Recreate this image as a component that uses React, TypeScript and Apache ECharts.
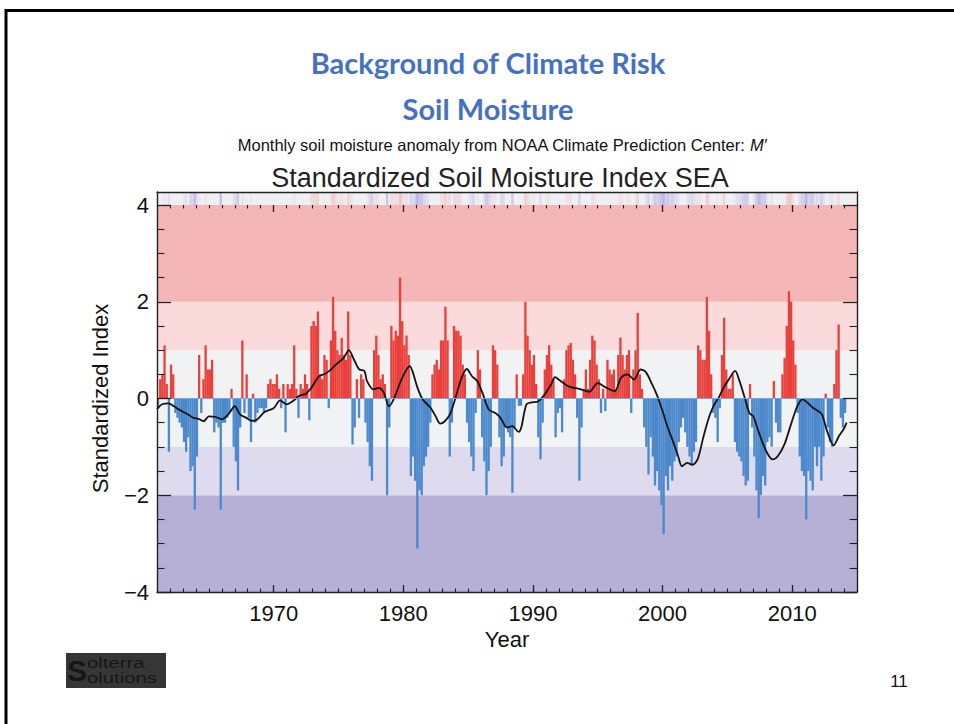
import React, { useEffect, useRef } from 'react';
import * as echarts from 'echarts';

// Standardized soil moisture index, six (bi-monthly) values per year
const STEPS_PER_YEAR = 6;
const ssi1960s = [
  -0.2, 0.4, 0.5, 1.1, 0.3, -1.1, // 1961
  0.7, 0.5, -0.3, -0.4, -0.5, -0.6, // 1962
  -0.9, -1.1, -0.8, -1.5, -1.4, -2.3, // 1963
  -1.2, 0.9, -0.3, 0.4, 1.1, 0.6, // 1964
  0.6, 0.8, -0.7, -0.5, -0.6, -2.3, // 1965
  -0.5, -0.5, -0.4, -0.3, 0.2, -1.0, // 1966
  -1.3, -1.9, -0.6, 1.2, -0.3, 0.5, // 1967
  -0.4, -0.9, 0.1, -0.5, -0.3, -0.2, // 1968
  -0.2, -0.3, -0.2, 0.3, 0.4, 0.3, // 1969
];
const ssi1970s = [
  0.3, 0.5, 0.2, -0.2, 0.3, -0.7, // 1970
  0.3, 0.2, 0.3, 1.1, 0.2, -0.4, // 1971
  0.3, 0.2, 0.5, 0.3, -0.45, 1.5, // 1972
  1.6, 1.5, 1.8, 0.5, 0.4, 0.9, // 1973
  0.8, -0.2, 1.2, 2.1, 1.4, 1.0, // 1974
  0.9, 1.25, 0.9, 0.8, 1.8, 0.9, // 1975
  -0.95, -0.6, 0.4, -0.4, 0.5, 0.4, // 1976
  -0.5, -0.9, -1.4, -1.7, 1.0, 1.3, // 1977
  0.9, 0.4, 0.5, 0.3, -2.0, -0.6, // 1978
  1.5, 1.2, 1.4, 1.3, 2.5, 1.6, // 1979
];
const ssi1980s = [
  1.1, 1.3, 0.9, -1.6, -1.2, -1.7, // 1980
  -3.1, -1.9, -2.0, -1.4, -1.2, -1.0, // 1981
  -0.5, 0.5, 0.7, 0.8, 0.6, 1.2, // 1982
  1.2, 1.9, 1.2, -1.2, -0.5, 1.5, // 1983
  1.4, 1.4, 1.3, 0.7, 0.5, -0.5, // 1984
  -0.9, -1.2, -1.5, -0.3, 1.0, 0.6, // 1985
  -0.8, -1.3, -2.0, -1.5, -1.0, 1.1, // 1986
  1.0, 0.7, -0.8, -1.4, -1.2, -0.6, // 1987
  -0.7, -0.8, -1.95, -0.6, 0.5, -0.15, // 1988
  -0.15, 0.5, 2.0, 1.3, 1.0, 0.7, // 1989
];
const ssi1990s = [
  0.9, 0.3, -0.8, -1.26, -0.5, 0.6, // 1990
  0.9, 1.1, 0.7, 0.4, -0.8, -0.3, // 1991
  -0.2, -0.7, 0.4, 1.0, 1.1, 1.15, // 1992
  0.8, 0.5, -0.4, -1.7, -0.6, 0.2, // 1993
  0.6, 0.2, 0.8, 1.3, 1.2, 0.7, // 1994
  0.4, -0.3, 0.2, -0.26, 0.8, 0.6, // 1995
  0.5, 0.6, 0.2, 0.9, 1.26, 0.9, // 1996
  0.6, 0.9, 1.0, -0.3, 0.6, 1.0, // 1997
  1.77, 0.5, 0.2, -0.6, -1.0, -1.57, // 1998
  -0.8, -1.2, -1.8, -1.5, -1.9, -2.2, // 1999
];
const ssi2000s = [
  -2.8, -1.6, -1.9, -1.4, -1.7, -1.3, // 2000
  -1.2, -0.9, -0.6, -0.4, -0.7, -1.0, // 2001
  -1.2, -1.37, -1.1, -0.9, 1.1, 1.0, // 2002
  0.8, 0.8, 2.1, 1.4, 0.5, -0.3, // 2003
  -0.4, -0.9, -0.2, 0.9, 1.67, 0.6, // 2004
  0.2, 0.2, 0.5, -0.9, -1.1, -1.2, // 2005
  -1.3, -1.6, -1.8, -1.7, 0.3, -0.6, // 2006
  -1.2, -1.9, -2.47, -2.0, -1.6, -1.8, // 2007
  -0.9, -0.8, -1.0, 0.36, -0.5, -0.7, // 2008
  -0.7, 0.5, 0.84, 1.5, 2.22, 2.0, // 2009
];
const ssi2010s = [
  1.2, 0.7, -0.3, -1.2, -1.5, -1.6, // 2010
  -2.5, -1.5, -1.7, -1.9, -1.0, -1.4, // 2011
  -1.0, -1.7, -1.2, 0.1, -0.6, -0.9, // 2012
  -1.0, 0.3, 1.0, 1.53, -0.4, -0.6, // 2013
  -0.3, // 2014
];
const decadeStarts = [1961, 1970, 1980, 1990, 2000, 2010];
const decadeValues = [ssi1960s, ssi1970s, ssi1980s, ssi1990s, ssi2000s, ssi2010s];

// Smoothed index (black curve)
const smoothYears = [
  1961.0, 1961.4, 1961.9, 1962.3, 1962.9, 1963.4, 1963.8, 1964.2, 1964.6, 1965.0,
  1965.5, 1966.0, 1966.5, 1967.0, 1967.4, 1967.9, 1968.3, 1968.7, 1969.3, 1970.0,
  1970.5, 1971.0, 1971.5, 1972.0, 1972.5, 1972.9, 1973.5, 1973.9, 1974.3, 1974.8,
  1975.4, 1975.8, 1976.2, 1976.6, 1977.0, 1977.2, 1977.7, 1978.1, 1978.5, 1978.9,
  1979.3, 1979.7, 1980.1, 1980.5, 1980.7, 1981.1, 1981.5, 1982.1, 1982.5, 1982.85,
  1983.2, 1983.6, 1984.1, 1984.5, 1984.9, 1985.3, 1985.7, 1986.1, 1986.6, 1987.1,
  1987.5, 1988.0, 1988.4, 1988.9, 1989.1, 1989.5, 1989.9, 1990.4, 1990.9, 1991.4,
  1991.7, 1992.1, 1992.5, 1992.85, 1993.2, 1993.7, 1994.35, 1995.0, 1995.6, 1996.3,
  1996.8, 1997.3, 1997.8, 1998.3, 1998.7, 1999.2, 1999.6, 2000.0, 2000.4, 2000.8,
  2001.2, 2001.5, 2001.9, 2002.3, 2002.7, 2003.1, 2003.4, 2003.7, 2004.0, 2004.3,
  2004.7, 2005.1, 2005.6, 2005.9, 2006.3, 2006.7, 2007.0, 2007.4, 2008.0, 2008.5,
  2008.9, 2009.4, 2009.9, 2010.4, 2010.8, 2011.2, 2011.6, 2012.0, 2012.3, 2012.7,
  2013.2, 2013.6, 2014.0, 2014.2,
];
const smoothValues = [
  -0.22, -0.12, -0.1, -0.16, -0.26, -0.33, -0.4, -0.42, -0.47, -0.37,
  -0.38, -0.43, -0.33, -0.16, -0.33, -0.4, -0.46, -0.44, -0.28, -0.2,
  -0.04, -0.12, -0.05, 0.06, 0.1, 0.22, 0.46, 0.5, 0.57, 0.7,
  0.84, 1.0, 0.8, 0.6, 0.57, 0.36, 0.19, 0.22, 0.12, -0.16,
  0.01, 0.29, 0.53, 0.67, 0.57, 0.22, -0.02, -0.19, -0.37, -0.52,
  -0.47, -0.33, 0.08, 0.43, 0.61, 0.46, 0.36, 0.12, -0.23, -0.3,
  -0.4, -0.6, -0.57, -0.69, -0.6, -0.12, -0.08, -0.06, 0.08, 0.29,
  0.44, 0.37, 0.29, 0.24, 0.22, 0.19, 0.14, 0.32, 0.23, 0.15,
  0.43, 0.5, 0.39, 0.6, 0.55, 0.29, 0.05, -0.26, -0.6, -0.88,
  -1.19, -1.4, -1.33, -1.37, -1.26, -0.85, -0.55, -0.3, -0.12, 0.0,
  0.22, 0.39, 0.57, 0.39, 0.05, -0.3, -0.37, -0.68, -1.09, -1.26,
  -1.19, -0.95, -0.54, -0.16, -0.02, -0.09, -0.19, -0.26, -0.33, -0.68,
  -0.97, -0.78, -0.62, -0.5,
];

const decadeTicks = [1970, 1980, 1990, 2000, 2010];
const bandEdges = [-4, -2, -1, 1, 2, 4];
const bandColors = ['#b6b0d6', '#dddbed', '#f1f2f4', '#fbdadc', '#f5b6b8'];

const RED = '#e9403b';
const BLUE = '#4b88cc';
const AXIS = '#222';
const FONT = '"Liberation Sans", Arial, sans-serif';
const TITLE_FONT = 'Lato, "Open Sans", sans-serif';

function buildBars(): [number, number][] {
  const out: [number, number][] = [];
  decadeValues.forEach((vals, d) => {
    vals.forEach((v, i) => out.push([decadeStarts[d] + (i + 0.5) / STEPS_PER_YEAR, v]));
  });
  return out;
}

function stripColor(v: number): string {
  if (v >= 0.9) return `rgba(238,130,138,${Math.min(0.42, (v - 0.6) * 0.22).toFixed(2)})`;
  if (v <= -0.9) return `rgba(125,118,212,${Math.min(0.48, (-v - 0.6) * 0.24).toFixed(2)})`;
  return 'rgba(0,0,0,0)';
}

export default function App() {
  const ref = useRef<HTMLDivElement>(null);
  useEffect(() => {
    if (!ref.current) return;
    const chart = echarts.init(ref.current, undefined, { renderer: 'svg' });
    const bars = buildBars();
    const smooth = smoothYears.map((t, i) => [t, smoothValues[i]]);
    const gridPos = { left: 157, right: 97 };
    const hiddenX = (gridIndex: number, position: string, extra: any) => ({
      gridIndex, type: 'value', min: 1961, max: 2015, position, z: 10,
      axisLine: { show: false, onZero: false }, axisLabel: { show: false }, splitLine: { show: false },
      ...extra,
    });
    const option: any = {
      animation: false,
      backgroundColor: '#ffffff',
      title: [
        { text: 'Background of Climate Risk', left: 483, top: 43, textAlign: 'center',
          textStyle: { fontFamily: TITLE_FONT, fontWeight: 'bold', fontSize: 29, color: '#4571c4' } },
        { text: 'Soil Moisture', left: 483, top: 89, textAlign: 'center',
          textStyle: { fontFamily: TITLE_FONT, fontWeight: 'bold', fontSize: 29, color: '#4571c4' } },
        { text: 'Monthly soil moisture anomaly from NOAA Climate Prediction Center: {i|M′}', left: 497, top: 131, textAlign: 'center',
          textStyle: { fontFamily: FONT, fontWeight: 'normal', fontSize: 16.5, color: '#111',
            rich: { i: { fontFamily: FONT, fontStyle: 'italic', fontSize: 16.5, color: '#111' } } } },
        { text: 'Standardized Soil Moisture Index SEA', left: 495, top: 159, textAlign: 'center',
          textStyle: { fontFamily: FONT, fontWeight: 'normal', fontSize: 27, color: '#222' } },
      ],
      grid: [
        { ...gridPos, top: 205, bottom: 132, show: false },
        { ...gridPos, top: 192, height: 13, show: true, backgroundColor: '#eff0f3', borderWidth: 0 },
      ],
      xAxis: [
        { gridIndex: 0, type: 'value', min: 1961, max: 2015, position: 'bottom', z: 10,
          axisLine: { show: true, onZero: false, lineStyle: { color: AXIS, width: 1.4 } },
          axisTick: { show: true, inside: true, length: 7, customValues: decadeTicks, lineStyle: { color: AXIS, width: 1.3 } },
          axisLabel: { show: true, customValues: decadeTicks, fontFamily: FONT, fontSize: 22, color: '#111', margin: 10,
            formatter: (v: number) => String(v) },
          splitLine: { show: false },
          name: 'Year', nameLocation: 'middle', nameGap: 35,
          nameTextStyle: { fontFamily: FONT, fontSize: 22, color: '#111' } },
        hiddenX(0, 'bottom', { interval: 1, axisTick: { show: true, inside: true, length: 3.5, lineStyle: { color: AXIS, width: 1.1 } } }),
        hiddenX(0, 'top', { axisTick: { show: true, inside: true, length: 7, customValues: decadeTicks, lineStyle: { color: AXIS, width: 1.3 } } }),
        hiddenX(0, 'top', { interval: 1, axisTick: { show: true, inside: true, length: 3.5, lineStyle: { color: AXIS, width: 1.1 } } }),
        hiddenX(1, 'top', { axisLine: { show: true, onZero: false, lineStyle: { color: AXIS, width: 1.4 } }, axisTick: { show: false } }),
      ],
      yAxis: [
        { gridIndex: 0, type: 'value', min: -4, max: 4, interval: 2, position: 'left', z: 10,
          axisLine: { show: true, onZero: false, lineStyle: { color: AXIS, width: 1.4 } },
          axisTick: { show: true, inside: true, length: 14, lineStyle: { color: AXIS, width: 1.3 } },
          minorTick: { show: true, splitNumber: 4, length: 7.5, lineStyle: { color: AXIS, width: 1.1 } },
          axisLabel: { fontFamily: FONT, fontSize: 22, color: '#111', margin: 8,
            formatter: (v: number) => (v < 0 ? '\u2212' + Math.abs(v) : String(v)) },
          splitLine: { show: false },
          name: 'Standardized Index', nameLocation: 'middle', nameGap: 46, nameRotate: 90,
          nameTextStyle: { fontFamily: FONT, fontSize: 22, color: '#111' } },
        { gridIndex: 0, type: 'value', min: -4, max: 4, interval: 2, position: 'right', z: 10,
          axisLine: { show: true, onZero: false, lineStyle: { color: AXIS, width: 1.4 } },
          axisTick: { show: true, inside: true, length: 14, lineStyle: { color: AXIS, width: 1.3 } },
          minorTick: { show: true, splitNumber: 4, length: 7.5, lineStyle: { color: AXIS, width: 1.1 } },
          axisLabel: { show: false }, splitLine: { show: false } },
        { gridIndex: 1, type: 'value', min: 0, max: 1, position: 'left', z: 10,
          axisLine: { show: true, onZero: false, lineStyle: { color: AXIS, width: 1.4 } },
          axisTick: { show: false }, axisLabel: { show: false }, splitLine: { show: false } },
        { gridIndex: 1, type: 'value', min: 0, max: 1, position: 'right', z: 10,
          axisLine: { show: true, onZero: false, lineStyle: { color: AXIS, width: 1.4 } },
          axisTick: { show: false }, axisLabel: { show: false }, splitLine: { show: false } },
      ],
      series: [
        { name: 'bands', type: 'line', xAxisIndex: 0, yAxisIndex: 0, data: [], silent: true,
          markArea: { silent: true, z: 1,
            data: bandColors.map((c, i) => [
              { yAxis: bandEdges[i], itemStyle: { color: c } },
              { yAxis: bandEdges[i + 1] },
            ]) } },
        { name: 'SSI', type: 'bar', xAxisIndex: 0, yAxisIndex: 0, data: bars, barWidth: 2.3, z: 2,
          silent: true,
          itemStyle: { color: (p: any) => (p.value[1] >= 0 ? RED : BLUE) },
          markLine: { silent: true, symbol: 'none', label: { show: false },
            lineStyle: { color: '#78a6da', width: 1, type: 'solid' }, data: [{ yAxis: 0 }] } },
        { name: 'smoothed', type: 'line', xAxisIndex: 0, yAxisIndex: 0, data: smooth, z: 4,
          showSymbol: false, symbol: 'none', smooth: 0.3, silent: true,
          lineStyle: { color: '#141414', width: 1.8 } },
        { name: 'strip', type: 'bar', xAxisIndex: 4, yAxisIndex: 2, barWidth: 2.3, silent: true,
          data: bars.map(([t, v]) => ({ value: [t, 1], itemStyle: { color: stripColor(v) } })) },
      ],
      graphic: [
        { type: 'line', shape: { x1: 6, y1: 10.5, x2: 954, y2: 10.5 }, style: { stroke: '#000', lineWidth: 3 } },
        { type: 'line', shape: { x1: 6, y1: 9, x2: 6, y2: 724 }, style: { stroke: '#000', lineWidth: 3 } },
        { type: 'group', children: [
          { type: 'rect', shape: { x: 66, y: 653, width: 100, height: 35 }, style: { fill: '#363636' } },
          { type: 'text', x: 67, y: 655, style: { text: 'S', fontSize: 30, fontWeight: 'bold', fontFamily: FONT, fill: '#161616' } },
          { type: 'text', x: 87, y: 656, scaleX: 1.45, style: { text: 'olterra', fontSize: 14, fontFamily: FONT, fill: '#161616' } },
          { type: 'text', x: 87, y: 671, scaleX: 1.45, style: { text: 'olutions', fontSize: 14, fontFamily: FONT, fill: '#161616' } },
        ] },
        { type: 'text', x: 899, y: 681, style: { text: '11', fontSize: 17, fontFamily: FONT, fill: '#111', align: 'center', verticalAlign: 'middle' } },
      ],
    };
    chart.setOption(option);
    return () => chart.dispose();
  }, []);
  return <div ref={ref} style={{ position: 'fixed', left: 0, top: 0, width: 954, height: 724, background: '#fff' }} />;
}
